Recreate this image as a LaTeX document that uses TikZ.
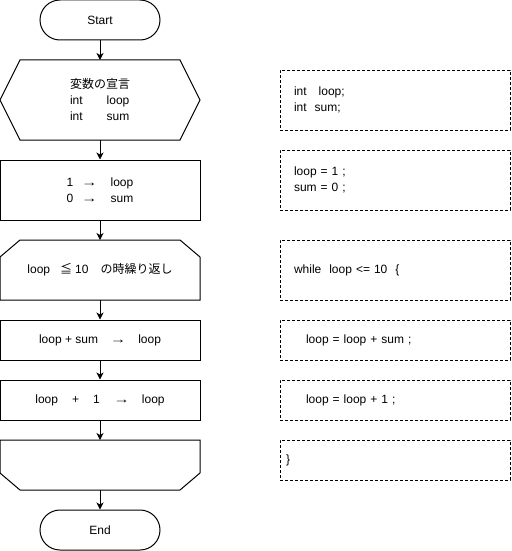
\documentclass[tikz,border=0pt]{standalone}
\usepackage{fontspec}
\setmainfont{Liberation Sans}
\newfontfamily\jpfont{Noto Sans CJK JP}
\usetikzlibrary{arrows.meta,calc}

\tikzset{
	flowline/.style={line width=1pt, -{Stealth[length=7pt,width=7pt,inset=2pt]}},
	termbox/.style={draw, line width=1pt, rounded corners=20pt, minimum width=120pt, minimum height=40pt},
	procbox/.style={draw, line width=1pt, minimum width=200pt, minimum height=#1},
	shapebox/.style={minimum width=200pt, minimum height=#1, outer sep=0pt},
	codebox/.style={draw, line width=1pt, dash pattern=on 3pt off 2pt, minimum height=#1, inner xsep=0pt, text width=230pt, align=left}
}
\def\ind#1{\hspace*{#1pt}}
\def\longto{\scalebox{1.35}[1]{→}}

\begin{document}
\begin{tikzpicture}[x=1pt, y=-1pt, font=\fontsize{12pt}{16pt}\selectfont]
		%%%%% START %%%%%
		\useasboundingbox (0, 0) rectangle (511, 551);
		
		\node[termbox] (start) at (100, 20) {Start};
		
		\node[shapebox=80pt, align=left] (decl) at (100, 100) {{\jpfont 変数の宣言}\\int\hspace{24pt}loop\\int\hspace{24pt}sum};
		\draw[line width=1pt] (decl.west) -- ($(decl.north west)+(20, 0)$) -- ($(decl.north east)+(-20, 0)$)
			-- (decl.east) -- ($(decl.south east)+(-20, 0)$) -- ($(decl.south west)+(20, 0)$) -- cycle;
		
		\node[procbox=60pt, align=center] (init) at (100, 190) {1\hspace{8pt}\longto\hspace{13pt}loop\\0\hspace{8pt}\longto\hspace{13pt}sum};
		
		\node[shapebox=60pt] (loopst) at (100, 270) {loop\hspace{10pt}{\jpfont ≦}\hspace{3pt}10\hspace{12pt}{\jpfont の時繰り返し}};
		\draw[line width=1pt] ($(loopst.north west)+(20, 0)$) -- ($(loopst.north east)+(-20, 0)$) -- ($(loopst.north east)+(0, 17)$)
			-- (loopst.south east) -- (loopst.south west) -- ($(loopst.north west)+(0, 17)$) -- cycle;
		
		\node[procbox=40pt] (addsum) at (100, 340) {loop + sum\hspace{12pt}\longto\hspace{12pt}loop};
		\node[procbox=40pt] (incr) at (100, 400) {loop\hspace{14pt}+\hspace{14pt}1\hspace{14pt}\longto\hspace{12pt}loop};
		
		\node[shapebox=50pt] (loopend) at (100, 465) {};
		\draw[line width=1pt] (loopend.north west) -- (loopend.north east) -- ($(loopend.south east)+(0, -17)$)
			-- ($(loopend.south east)+(-20, 0)$) -- ($(loopend.south west)+(20, 0)$) -- ($(loopend.south west)+(0, -17)$) -- cycle;
		
		\node[termbox] (end) at (100, 530) {End};
		
		\draw[flowline] (start.south) -- (decl.north);
		\draw[flowline] (decl.south) -- (init.north);
		\draw[flowline] (init.south) -- (loopst.north);
		\draw[flowline] (loopst.south) -- (addsum.north);
		\draw[flowline] (addsum.south) -- (incr.north);
		\draw[flowline] (incr.south) -- (loopend.north);
		\draw[flowline] (loopend.south) -- (end.north);
		
		%%%%% CODE %%%%%
		\node[codebox=60pt] (code1) at (395, 100) {\ind{14}int\ \ \ loop;\\\ind{14}int\ \ sum;};
		\node[codebox=60pt] (code2) at (395, 180) {\ind{14}loop = 1 ;\\\ind{14}sum = 0 ;};
		\node[codebox=60pt] (code3) at (395, 270) {\ind{14}while\ \ loop <= 10\ \ \{};
		\node[codebox=40pt] (code4) at (395, 340) {\ind{26}loop = loop + sum ;};
		\node[codebox=40pt] (code5) at (395, 400) {\ind{26}loop = loop + 1 ;};
		\node[codebox=40pt] (code6) at (395, 460) {\ind{6}\}};
		
		%%%%% END %%%%%
\end{tikzpicture}
\end{document}
